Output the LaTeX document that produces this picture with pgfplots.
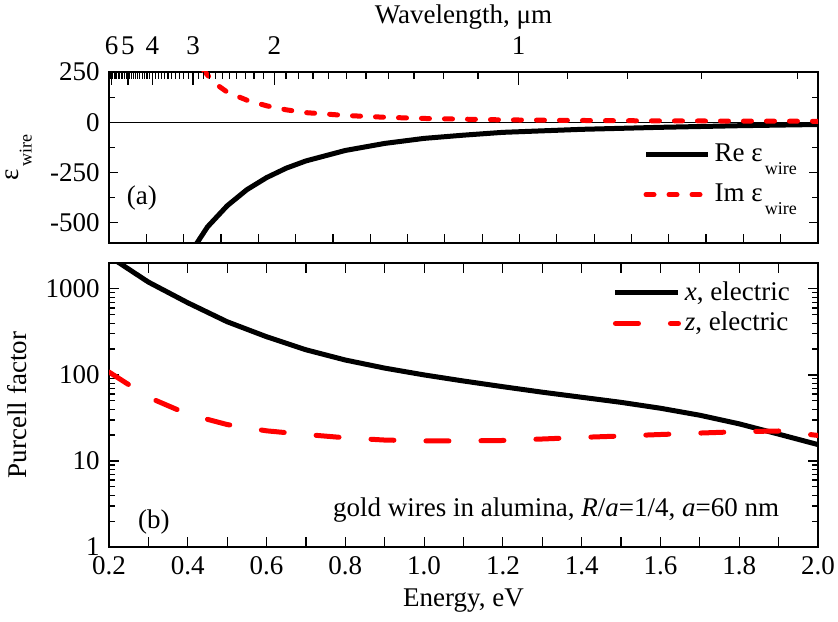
\documentclass[border=0pt]{standalone}
\usepackage{fontspec}
\setmainfont{Liberation Serif}
\usepackage{pgfplots}
\pgfplotsset{compat=1.18}
\definecolor{myred}{RGB}{255,0,0}
\newcommand{\wire}{\hspace{1.2pt}\raisebox{-6.3pt}{\fontsize{9}{9}\selectfont wire}}
\begin{document}
\fontsize{13.5}{16}\selectfont
\begin{tikzpicture}[x=1pt,y=1pt]
\useasboundingbox (0,0) rectangle (419,310.5);
\pgfplotsset{
  every axis/.append style={
    scale only axis, width=354.5pt, anchor=south west,
    xmin=0.2, xmax=2.0,
    tick align=inside,
    axis line style={line width=0.75pt},
    every tick/.style={black, line width=0.6pt},
    /pgf/number format/assume math mode=true,
    tick label style={font=\fontsize{13.5}{16}\selectfont},
    label style={font=\fontsize{13.5}{16}\selectfont},
    legend style={font=\fontsize{13.5}{16}\selectfont},
  }
}
% ---------------- bottom panel ----------------
\begin{axis}[
  at={(54.5pt,37pt)}, height=142pt,
  ymode=log, ymin=1, ymax=2000,
  xtick={0.2,0.3,0.4,0.5,0.6,0.7,0.8,0.9,1.0,1.1,1.2,1.3,1.4,1.5,1.6,1.7,1.8,1.9,2.0},
  xticklabels={0.2,,0.4,,0.6,,0.8,,1.0,,1.2,,1.4,,1.6,,1.8,,2.0},
  ytick={1,10,100,1000}, yticklabels={1,10,100,1000},
  minor ytick={2,3,4,5,6,7,8,9,20,30,40,50,60,70,80,90,200,300,400,500,600,700,800,900,2000},
  major tick length=5pt, minor tick length=3pt,
  xlabel={Energy, eV}, ylabel={Purcell factor},
  xlabel style={yshift=2pt},
  legend style={draw=none, fill=none, at={(0.975,0.965)}, anchor=north east},
  legend cell align=left,
  legend image code/.code={\draw[#1] (0pt,0pt) -- (31.5pt,0pt);},
]
\addplot[black, line width=2.5pt] coordinates {
(0.2,2400) (0.3,1200) (0.4,690) (0.5,415) (0.6,278) (0.7,196) (0.8,149) (0.9,120)
(1.0,100) (1.1,85) (1.2,73) (1.3,63) (1.4,55) (1.5,48) (1.6,41) (1.7,34)
(1.8,27) (1.9,20.5) (2.0,15.5)};
\addlegendentry{\textit{x}, electric}
\addplot[myred, line width=2.5pt, line cap=round, dash pattern=on 11.5pt off 16pt] coordinates {
(0.2,108) (0.3,55) (0.4,35) (0.5,26.5) (0.6,22.4) (0.7,20.3) (0.8,18.6) (0.9,17.5)
(1.0,17.1) (1.1,17.1) (1.2,17.3) (1.3,18.0) (1.4,18.8) (1.5,19.5) (1.6,20.3) (1.7,21.1)
(1.8,21.9) (1.9,22.3) (2.0,19.8)};
\addlegendentry{\textit{z}, electric}
\node at (axis cs:0.314,1.95) {(b)};
\node[anchor=east] at (axis cs:1.925,2.69) {gold wires in alumina, \textit{R}/\textit{a}=1/4, \textit{a}=60 nm};
\end{axis}
% ---------------- top panel ----------------
\begin{axis}[
  at={(54.5pt,189pt)}, height=85.5pt,
  ymin=-600, ymax=250,
  xtick={0.29474,0.38947,0.48421,0.57895,0.67368,0.76842,0.86316,0.95789,1.05263,1.14737,1.24211,1.33684,1.43158,1.52632,1.62105,1.71579,1.81053,1.90526},
  xticklabels={,,,,,,,,,,,,,,,,,},
  xtick pos=bottom,
  ytick={-500,-250,0,250}, yticklabels={-500,-250,0,250},
  minor ytick={-375,-125,125},
  major tick length=4.5pt, minor tick length=3pt,
  ylabel={ε\wire},
  legend style={draw=none, fill=none, at={(0.985,0.17)}, anchor=south east, row sep=5pt},
  legend cell align=left,
  legend image code/.code={\draw[#1] (0pt,0pt) -- (31pt,0pt);},
]
\addplot[black, line width=0.75pt, forget plot] coordinates {(0.2,0) (2.0,0)};
\addplot[black, line width=2.5pt] coordinates {
(0.41,-640) (0.425,-595) (0.45,-520) (0.5,-415) (0.55,-335) (0.6,-275) (0.65,-228)
(0.7,-192) (0.8,-140) (0.9,-105) (1.0,-80) (1.1,-64) (1.2,-50) (1.4,-35) (1.6,-25)
(1.8,-17) (2.0,-11)};
\addlegendentry{Re ε\wire}
\addplot[myred, line width=2.5pt, line cap=round, dash pattern=on 4pt off 7.5pt] coordinates {
(0.44,260) (0.45,235) (0.475,185) (0.5,150) (0.55,110) (0.6,82) (0.65,62) (0.7,48)
(0.8,34) (0.9,25) (1.0,19) (1.2,12) (1.4,9) (1.6,7) (1.8,6) (2.0,5)};
\addlegendentry{Im ε\wire}
\node at (axis cs:0.2836,-375) {(a)};
\end{axis}
% ---------------- wavelength axis ----------------
\begin{axis}[
  at={(54.5pt,189pt)}, height=85.5pt,
  ymin=0, ymax=1, hide y axis,
  axis line style={draw=none},
  xtick pos=top, xticklabel pos=top,
  xtick={0.20667,0.248,0.31,0.41333,0.62,1.24},
  xticklabels={6,5,4,3,2,1},
  minor xtick={0.20059,0.20358,0.20985,0.21313,0.21651,0.22,0.22361,0.22733,0.23119,0.23517,0.2393,0.24357,
    0.25259,0.25736,0.26231,0.26745,0.2728,0.27837,0.28417,0.29021,0.29652,0.30311,
    0.31721,0.32476,0.33268,0.341,0.34974,0.35895,0.36865,0.37889,0.38972,0.40118,
    0.42625,0.44,0.45466,0.47034,0.48714,0.50519,0.52462,0.5456,0.56834,0.59304,
    0.64952,0.682,0.71789,0.75778,0.80235,0.8525,0.90933,0.97429,1.04923,1.13667,
    1.364,1.5155,1.705,1.9486},
  major tick length=6.5pt, minor tick length=3.5pt,
  xticklabel style={yshift=4pt},
  xlabel={Wavelength, μm},
  xlabel style={yshift=-5.5pt},
]
\end{axis}
\end{tikzpicture}
\end{document}
